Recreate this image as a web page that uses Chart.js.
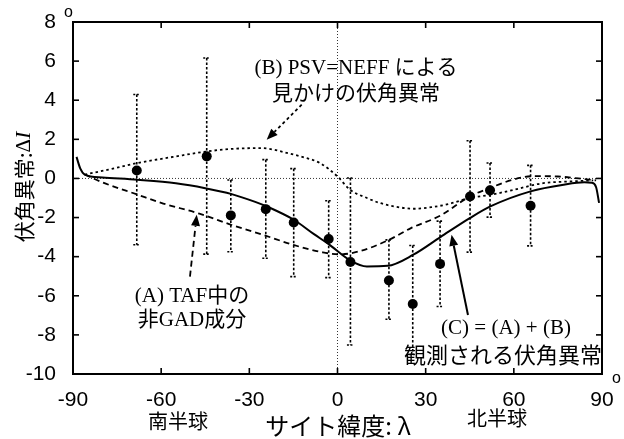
<!DOCTYPE html>
<html>
<head>
<meta charset="utf-8">
<script src="https://cdn.jsdelivr.net/npm/chart.js@4"></script>
<style>
html,body{margin:0;padding:0;background:#fff;}
#wrap{width:624px;height:439px;position:relative;}
</style>
</head>
<body>
<div id="wrap"><canvas id="c" width="624" height="439"></canvas></div>
<script>
// ---- data ----
const xTicks = [-90, -60, -30, 0, 30, 60, 90];
const yTicks = [-10, -8, -6, -4, -2, 0, 2, 4, 6, 8];

// observed sites
const siteLat = [-68.3, -44.5, -36.3, -24.4, -14.9, -3.0, 4.4, 17.5, 25.6, 34.9, 45.1, 51.9, 65.7];
const siteVal = [0.41, 1.13, -1.89, -1.57, -2.25, -3.1, -4.27, -5.22, -6.42, -4.37, -0.92, -0.61, -1.4];
const siteHi  = [4.29, 6.16, -0.08, 0.96, 0.5, -1.14, 0.02, -3.14, -3.43, -2.18, 1.93, 0.79, 0.67];
const siteLo  = [-3.39, -3.87, -3.75, -4.08, -5.02, -5.07, -8.52, -7.2, -9.0, -6.55, -3.77, -1.98, -3.45];

// (A) non-GAD part of TAF (dashed)
const curveALat = [-86, -80, -68, -60, -47, -36, -25, -15, -5, 1, 8, 17.5, 25, 35, 45, 52, 60, 67, 75, 82, 88];
const curveAVal = [0.2, -0.2, -0.83, -1.25, -1.8, -2.38, -2.9, -3.4, -3.78, -3.88, -3.7, -3.14, -2.54, -1.9, -0.92, -0.48, -0.05, 0.12, 0.1, 0.0, -0.1];

// (B) apparent anomaly by PSV=NEFF (dotted)
const curveBLat = [-86, -78, -68, -56, -44.5, -35, -26, -16, -12, -6, 0, 4.3, 10, 14.5, 20, 26, 32, 38, 45, 52, 60, 70, 80, 87];
const curveBVal = [0.2, 0.45, 0.79, 1.1, 1.38, 1.52, 1.55, 1.26, 1.1, 0.79, 0.1, -0.58, -1.0, -1.26, -1.45, -1.55, -1.47, -1.3, -1.0, -0.84, -0.58, -0.24, -0.15, -0.1];

// (C) = (A)+(B) observed anomaly (solid)
const curveCLat = [-88.8, -87.5, -86, -80, -68, -55, -45, -36, -28, -23, -15, -8, -3, 4.4, 10, 17, 25.8, 35, 45, 52, 65.7, 77, 84, 86.5, 88, 89];
const curveCVal = [1.1, 0.5, 0.2, 0.05, -0.07, -0.25, -0.5, -0.8, -1.2, -1.5, -2.1, -2.85, -3.36, -4.2, -4.5, -4.47, -3.9, -3.0, -2.03, -1.43, -0.66, -0.32, -0.2, -0.22, -0.45, -1.25];

// annotation arrows (tail -> head) in data coordinates
const arrowB = [[-12.2, 3.77], [-24.1, 1.98]];
const arrowA = [[-50.2, -5.02], [-47.9, -1.86]];
const arrowC = [[44.4, -6.98], [38.8, -2.88]];

// ---- helpers ----
const pts = (xs, ys) => xs.map((x, i) => ({x: x, y: ys[i]}));
const SANS = '"Liberation Sans", Arial, sans-serif';
const CJK = '"Noto Sans CJK JP"';
const SERIF_CJK = '"Liberation Serif", ' + CJK + ', serif';

function drawArrow(ctx, sc, a, dash, width) {
  const x1 = sc.x.getPixelForValue(a[0][0]), y1 = sc.y.getPixelForValue(a[0][1]);
  const x2 = sc.x.getPixelForValue(a[1][0]), y2 = sc.y.getPixelForValue(a[1][1]);
  const ang = Math.atan2(y2 - y1, x2 - x1);
  const hl = 11, hw = 4.5;
  const bx = x2 - hl * Math.cos(ang), by = y2 - hl * Math.sin(ang);
  ctx.save();
  ctx.strokeStyle = '#000'; ctx.fillStyle = '#000';
  ctx.lineWidth = width;
  ctx.setLineDash(dash);
  ctx.beginPath(); ctx.moveTo(x1, y1); ctx.lineTo(bx, by); ctx.stroke();
  ctx.setLineDash([]);
  ctx.beginPath();
  ctx.moveTo(x2, y2);
  ctx.lineTo(bx + hw * Math.sin(ang), by - hw * Math.cos(ang));
  ctx.lineTo(bx - hw * Math.sin(ang), by + hw * Math.cos(ang));
  ctx.closePath(); ctx.fill();
  ctx.restore();
}

const decor = {
  id: 'decor',
  beforeDatasetsDraw(chart) {
    const ctx = chart.ctx, a = chart.chartArea, sx = chart.scales.x, sy = chart.scales.y;
    ctx.save();
    // zero reference lines
    ctx.strokeStyle = '#333'; ctx.lineWidth = 1; ctx.setLineDash([1, 2]);
    const y0 = sy.getPixelForValue(0), x0 = sx.getPixelForValue(0);
    ctx.beginPath(); ctx.moveTo(a.left, y0); ctx.lineTo(a.right, y0); ctx.stroke();
    ctx.beginPath(); ctx.moveTo(x0, a.top); ctx.lineTo(x0, a.bottom); ctx.stroke();
    // error bars
    ctx.strokeStyle = '#000'; ctx.lineWidth = 1.6;
    siteLat.forEach((lat, i) => {
      const px = sx.getPixelForValue(lat);
      const ph = sy.getPixelForValue(siteHi[i]), pl = sy.getPixelForValue(siteLo[i]);
      ctx.setLineDash([2.5, 2]);
      ctx.beginPath(); ctx.moveTo(px, ph); ctx.lineTo(px, pl); ctx.stroke();
      ctx.setLineDash([2, 1.5]);
      ctx.beginPath(); ctx.moveTo(px - 3.5, ph); ctx.lineTo(px + 3.5, ph); ctx.stroke();
      ctx.beginPath(); ctx.moveTo(px - 3.5, pl); ctx.lineTo(px + 3.5, pl); ctx.stroke();
    });
    ctx.restore();
  },
  afterDraw(chart) {
    const ctx = chart.ctx, a = chart.chartArea, sx = chart.scales.x, sy = chart.scales.y;
    const sc = {x: sx, y: sy};
    ctx.save();
    // frame
    ctx.strokeStyle = '#000'; ctx.lineWidth = 2; ctx.setLineDash([]);
    ctx.strokeRect(a.left, a.top, a.right - a.left, a.bottom - a.top);
    // inward ticks
    ctx.lineWidth = 1.6;
    const tl = 6;
    xTicks.slice(1, -1).forEach(v => {
      const p = sx.getPixelForValue(v);
      ctx.beginPath(); ctx.moveTo(p, a.bottom); ctx.lineTo(p, a.bottom - tl); ctx.stroke();
      ctx.beginPath(); ctx.moveTo(p, a.top); ctx.lineTo(p, a.top + tl); ctx.stroke();
    });
    yTicks.slice(1, -1).forEach(v => {
      const p = sy.getPixelForValue(v);
      ctx.beginPath(); ctx.moveTo(a.left, p); ctx.lineTo(a.left + tl, p); ctx.stroke();
      ctx.beginPath(); ctx.moveTo(a.right, p); ctx.lineTo(a.right - tl, p); ctx.stroke();
    });
    // degree marks
    ctx.fillStyle = '#000';
    ctx.font = '16px ' + SANS;
    ctx.textAlign = 'left'; ctx.textBaseline = 'alphabetic';
    ctx.fillText('o', 64, 17);
    ctx.fillText('o', 612, 383);

    // arrows
    drawArrow(ctx, sc, arrowB, [3, 3], 1.8);
    drawArrow(ctx, sc, arrowA, [6, 4], 1.8);
    drawArrow(ctx, sc, arrowC, [], 2);

    // annotation texts
    ctx.textAlign = 'center'; ctx.textBaseline = 'middle';
    ctx.font = '21px ' + SERIF_CJK;
    ctx.fillText('(B) PSV=NEFF による', 356, 68);
    ctx.font = '21px ' + CJK;
    ctx.fillText('見かけの伏角異常', 356, 92);
    ctx.font = '21px ' + SERIF_CJK;
    ctx.fillText('(A) TAF中の', 192, 296);
    ctx.fillText('非GAD成分', 192, 320);
    ctx.fillText('(C) = (A) + (B)', 506, 328);
    ctx.font = '22px ' + CJK;
    ctx.fillText('観測される伏角異常', 503, 355);

    // hemisphere labels and x title
    ctx.font = '20px ' + CJK;
    ctx.fillText('南半球', 178, 421);
    ctx.fillText('北半球', 497, 418);
    ctx.font = '24px ' + CJK;
    ctx.fillText('サイト緯度: λ', 338, 426);

    // y title (rotated)
    ctx.save();
    ctx.translate(24, 187);
    ctx.rotate(-Math.PI / 2);
    ctx.textBaseline = 'middle';
    const f1 = '21px ' + CJK, f2 = '21px "Liberation Serif", serif', f3 = 'italic 22px "Liberation Serif", serif';
    ctx.font = f1; const t1 = '伏角異常:'; const w1 = ctx.measureText(t1).width;
    ctx.font = f2; const w2 = ctx.measureText('Δ').width;
    ctx.font = f3; const w3 = ctx.measureText('I').width;
    let x = -(w1 + w2 + w3) / 2;
    ctx.textAlign = 'left';
    ctx.font = f1; ctx.fillText(t1, x, 0); x += w1;
    ctx.font = f2; ctx.fillText('Δ', x, 0); x += w2;
    ctx.font = f3; ctx.fillText('I', x, 0);
    ctx.restore();

    ctx.restore();
  }
};

Chart.defaults.font.family = SANS;
Chart.defaults.color = '#000';

new Chart(document.getElementById('c'), {
  type: 'scatter',
  data: {
    datasets: [
      {
        label: 'sites',
        data: pts(siteLat, siteVal),
        pointRadius: 5, pointBackgroundColor: '#000', pointBorderColor: '#000', pointBorderWidth: 0,
        showLine: false, order: 0
      },
      {
        label: '(C)',
        data: pts(curveCLat, curveCVal),
        showLine: true, borderColor: '#000', borderWidth: 2, pointRadius: 0,
        cubicInterpolationMode: 'monotone', order: 1
      },
      {
        label: '(A)',
        data: pts(curveALat, curveAVal),
        showLine: true, borderColor: '#000', borderWidth: 1.8, borderDash: [6, 4], pointRadius: 0,
        cubicInterpolationMode: 'monotone', order: 2
      },
      {
        label: '(B)',
        data: pts(curveBLat, curveBVal),
        showLine: true, borderColor: '#000', borderWidth: 1.8, borderDash: [2.5, 3], pointRadius: 0,
        cubicInterpolationMode: 'monotone', order: 3
      }
    ]
  },
  options: {
    responsive: false,
    animation: false,
    events: [],
    layout: {padding: {top: 22, right: 22, left: 0, bottom: 0}},
    plugins: {legend: {display: false}, tooltip: {enabled: false}},
    scales: {
      x: {
        type: 'linear', min: -90, max: 90,
        afterBuildTicks: s => { s.ticks = xTicks.map(v => ({value: v})); },
        ticks: {font: {size: 21}, color: '#000', padding: 6, maxRotation: 0},
        grid: {display: false}, border: {display: false},
        afterFit: s => { s.height = 65; }
      },
      y: {
        type: 'linear', min: -10, max: 8,
        afterBuildTicks: s => { s.ticks = yTicks.map(v => ({value: v})); },
        ticks: {font: {size: 21}, color: '#000', padding: 9},
        grid: {display: false}, border: {display: false},
        afterFit: s => { s.width = 73; }
      }
    }
  },
  plugins: [decor]
});
</script>
</body>
</html>
